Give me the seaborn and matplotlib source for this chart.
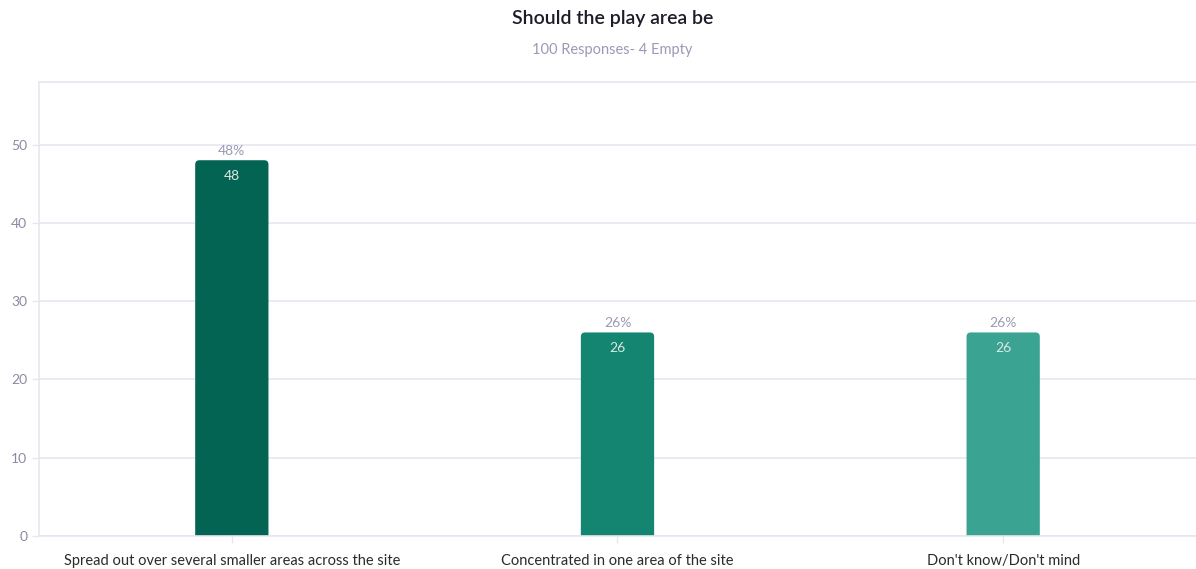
import pandas as pd
import matplotlib
matplotlib.use("Agg")
import matplotlib.pyplot as plt
import seaborn as sns
from matplotlib.patches import FancyBboxPatch

categories = ["Spread out over several smaller areas across the site",
              "Concentrated in one area of the site",
              "Don't know/Don't mind"]
counts = [48, 26, 26]
percents = ["48%", "26%", "26%"]
bar_colors = ["#036453", "#138571", "#3aa392"]

sns.set_style("white")
plt.rcParams['font.family'] = ['Lato', 'DejaVu Sans']

df = pd.DataFrame({"answer": categories, "count": counts})

fig = plt.figure(figsize=(11.96, 5.69), dpi=100)
ax = fig.add_axes([0.0326, 0.058, 0.9674, 0.798])

sns.barplot(data=df, x="answer", y="count", hue="answer", palette=bar_colors,
            width=0.19, legend=False, ax=ax, saturation=1)

grid_col = "#e6e6f0"
ax.set_ylim(0, 58)
ax.set_xlim(-0.5, 2.5)
ax.set_yticks([0, 10, 20, 30, 40, 50])

# swap plain bars for ones with rounded top corners
for bar in list(ax.patches):
    x, w, h = bar.get_x(), bar.get_width(), bar.get_height()
    fc = bar.get_facecolor()
    bar.remove()
    ax.add_patch(FancyBboxPatch((x, -2), w, h + 2,
                                boxstyle="round,pad=0,rounding_size=0.011",
                                mutation_aspect=49, facecolor=fc,
                                edgecolor="none", zorder=2))

ax.yaxis.grid(True, color=grid_col, linewidth=1.2)
ax.set_axisbelow(True)
ax.spines["right"].set_visible(False)
for side in ["left", "bottom", "top"]:
    ax.spines[side].set_color(grid_col)
    ax.spines[side].set_linewidth(1.2)

ax.tick_params(axis="y", colors=grid_col, labelcolor="#8a8aa3", labelsize=10,
               length=5, width=1, left=True)
ax.tick_params(axis="x", colors=grid_col, labelcolor="#2b2b2b", labelsize=10.5,
               length=5, width=1, bottom=True, pad=8)
ax.set_xlabel("")
ax.set_ylabel("")

for i, (v, p) in enumerate(zip(counts, percents)):
    ax.text(i, v + 0.4, p, ha="center", va="bottom", fontsize=10, color="#9a9ab5")
    ax.text(i, v - 1.2, str(v), ha="center", va="top", fontsize=10,
            color="#dbe9e2")

fig.text(0.512, 0.968, "Should the play area be", ha="center", va="center",
         fontsize=14, fontweight="semibold", color="#1c1c2b")
fig.text(0.512, 0.912, "100 Responses- 4 Empty", ha="center", va="center",
         fontsize=10.5, color="#9a9ab8")

fig.savefig("out.png", dpi=100)
